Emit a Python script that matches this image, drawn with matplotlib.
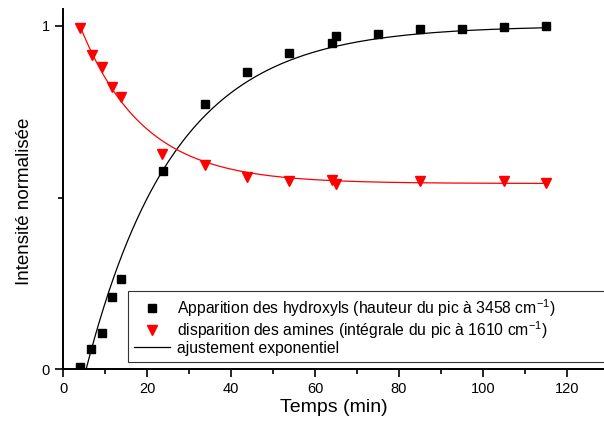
import numpy as np
import matplotlib
matplotlib.use("Agg")
import matplotlib.pyplot as plt
from matplotlib.ticker import MultipleLocator

plt.rcParams['font.family'] = ['Liberation Sans', 'DejaVu Sans']
plt.rcParams['mathtext.fontset'] = 'custom'
plt.rcParams['mathtext.rm'] = 'Liberation Sans'

# apparition des hydroxyls
x_oh = [4.1, 6.6, 9.2, 11.7, 13.8, 23.8, 33.8, 43.9, 53.9, 64.0, 65.0, 75.0, 85.0, 95.0, 105.0, 115.0]
y_oh = [0.008, 0.059, 0.106, 0.210, 0.264, 0.578, 0.772, 0.866, 0.920, 0.951, 0.971, 0.976, 0.991, 0.991, 0.996, 0.999]

# disparition des amines
x_nh = [4.1, 6.8, 9.2, 11.7, 13.7, 23.6, 33.8, 43.9, 53.9, 64.0, 65.0, 85.0, 105.0, 115.0]
y_nh = [0.995, 0.914, 0.879, 0.822, 0.793, 0.628, 0.595, 0.561, 0.547, 0.552, 0.540, 0.547, 0.547, 0.542]

# parametres des ajustements exponentiels
fit_oh = dict(x0=5.5, a=1.0, t=21.1)
fit_nh = dict(x0=4.0, y0=0.541, a=0.46, t=15.0)

fig = plt.figure(figsize=(6.04, 4.22), dpi=100)
ax = fig.add_axes([63 / 604, 1 - 369.3 / 422, 541 / 604, 360.3 / 422])

xf = np.linspace(fit_oh['x0'], 115, 300)
ax.plot(xf, fit_oh['a'] * (1 - np.exp(-(xf - fit_oh['x0']) / fit_oh['t'])),
        color='black', lw=0.9, zorder=2)
xf2 = np.linspace(fit_nh['x0'], 115, 300)
ax.plot(xf2, fit_nh['y0'] + fit_nh['a'] * np.exp(-(xf2 - fit_nh['x0']) / fit_nh['t']),
        color='red', lw=0.9, zorder=2)

ax.plot(x_oh, y_oh, 's', color='black', ms=6.2, zorder=3,
        label='Apparition des hydroxyls (hauteur du pic à 3458 cm$^{\\mathregular{-1}}$)')
ax.plot(x_nh, y_nh, 'v', color='red', ms=7.5, zorder=3,
        label='disparition des amines (intégrale du pic à 1610 cm$^{\\mathregular{-1}}$)')
ax.plot([], [], color='black', lw=0.9, label='ajustement exponentiel')

ax.set_xlim(0, 541 / 4.2)
ax.set_ylim(0, 1.049)
ax.xaxis.set_major_locator(MultipleLocator(20))
ax.xaxis.set_minor_locator(MultipleLocator(10))
ax.set_yticks([0, 1])
ax.set_yticklabels(['0', '1'])
ax.set_yticks([0.5], minor=True)

for s in ['top', 'right']:
    ax.spines[s].set_visible(False)
for s in ['left', 'bottom']:
    ax.spines[s].set_linewidth(1.4)
ax.tick_params(which='major', direction='out', length=6, width=1.2, labelsize=10.5)
ax.tick_params(which='minor', direction='out', length=3.5, width=1.2)

ax.set_xlabel('Temps (min)', fontsize=14, labelpad=2)
ax.set_ylabel('Intensité normalisée', fontsize=13.5, labelpad=6)
ax.yaxis.label.set_y(0.467)

leg = ax.legend(loc='upper left', bbox_to_anchor=(128 / 604, 1 - 291 / 422 - 0.01, 0.9, 0.01),
                bbox_transform=fig.transFigure, mode='expand', fontsize=11.3,
                frameon=True, fancybox=False, borderaxespad=0, handlelength=2.3,
                handletextpad=0.45, labelspacing=0.0, borderpad=0.4)
leg.get_frame().set_edgecolor('black')
leg.get_frame().set_linewidth(0.8)

fig.savefig('out.png', dpi=100)
